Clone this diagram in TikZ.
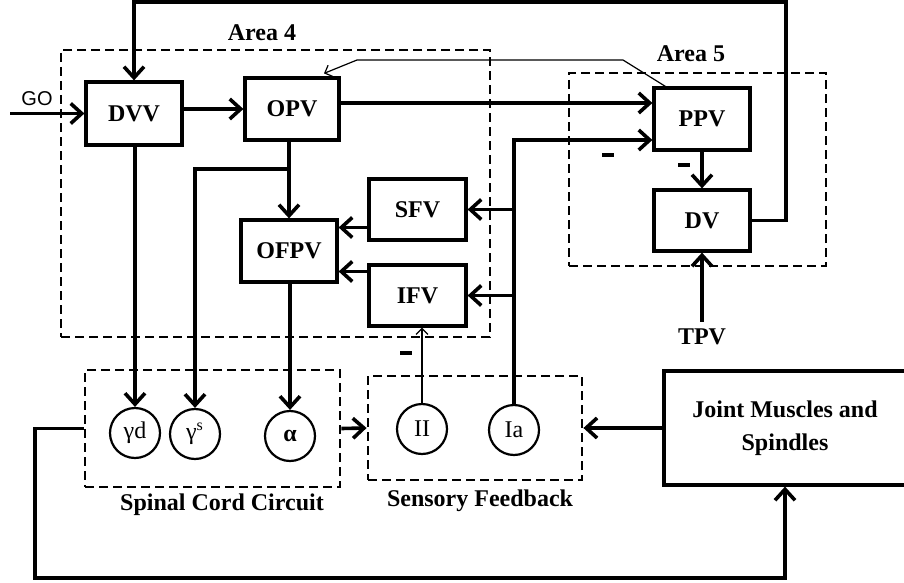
\documentclass[tikz,border=0pt]{standalone}
\usepackage{fontspec}
\setmainfont{Liberation Serif}
\newfontfamily\gofont{Liberation Sans}
\usetikzlibrary{arrows.meta}

\tikzset{
  blk/.style={draw, line width=1.6pt, inner sep=0pt, font=\fontsize{12}{14}\selectfont\bfseries},
  cell/.style={draw, circle, line width=1.1pt, minimum size=25pt, inner sep=0pt, font=\fontsize{12}{14}\selectfont},
  zone/.style={draw, line width=1.4pt, dash pattern=on 4.5pt off 2.5pt, inner sep=0pt},
  arr/.style={line width=1.8pt, -{Straight Barb[length=5.5pt,width=10pt]}},
  thinarr/.style={line width=0.6pt, -{Straight Barb[length=3pt,width=6pt]}},
  lbl/.style={font=\fontsize{12}{14}\selectfont\bfseries},
  minus/.style={inner sep=0pt},
}

\begin{document}
\begin{tikzpicture}[x=0.5pt,y=-0.5pt]
\clip (0,0) rectangle (904,583);
% dashed areas
\node[zone, minimum width=214.5pt, minimum height=143.5pt] (area4) at (275.5,193.5) {};
\node[zone, minimum width=128.5pt, minimum height=96.5pt] (area5) at (697.5,169.5) {};
\node[zone, minimum width=127.5pt, minimum height=58.5pt] (spinal) at (212.5,428.5) {};
\node[zone, minimum width=107pt, minimum height=52pt] (sensory) at (475,428) {};
\node[lbl] (a4lbl) at (262,33) {Area 4};
\node[lbl] (a5lbl) at (691,54) {Area 5};
\node[lbl] (sclbl) at (222,505) {Spinal Cord Circuit};
\node[lbl] (sflbl) at (480,501) {Sensory Feedback};
% boxes
\node[blk, minimum width=48pt, minimum height=31.5pt] (DVV) at (134,113.5) {DVV};
\node[blk, minimum width=47pt, minimum height=31pt] (OPV) at (292,109) {OPV};
\node[blk, minimum width=48pt, minimum height=31pt] (OFPV) at (289,251) {OFPV};
\node[blk, minimum width=48.5pt, minimum height=30.5pt] (SFV) at (417.5,209.5) {SFV};
\node[blk, minimum width=48.5pt, minimum height=30.5pt] (IFV) at (417.5,295.5) {IFV};
\node[blk, minimum width=48pt, minimum height=31pt] (PPV) at (702,119) {PPV};
\node[blk, minimum width=48pt, minimum height=30.5pt] (DV) at (702,220.5) {DV};
\node[blk, minimum width=121pt, minimum height=57pt, align=center, font=\fontsize{12}{16.5}\selectfont\bfseries] (joint) at (785,428) {Joint Muscles and\\Spindles};
\node[lbl] (TPV) at (702,337) {TPV};
\node[font=\gofont\fontsize{10}{12}\selectfont] (GO) at (37,99) {GO};
\coordinate (goin) at (10,113.5);
% circles
\node[cell] (gd) at (135,433) {γd};
\node[cell] (gs) at (195,434) {γ\textsuperscript{s}};
\node[cell] (al) at (290,436) {\textbf{α}};
\node[cell] (II) at (422,429) {II};
\node[cell] (Ia) at (514,430) {Ia};
% minus signs
\node[minus] (m1) at (608,155) {\rule{6pt}{1.7pt}};
\node[minus] (m2) at (684,165) {\rule{6pt}{1.7pt}};
\node[minus] (m3) at (406,353) {\rule{6pt}{1.7pt}};
% connectors
\draw[arr] (goin) -- (DVV.west);
\draw[arr] (DVV.east |- OPV.west) -- (OPV.west);
\draw[arr] ([yshift=3pt]OPV.east) -- ([yshift=3pt]OPV.east -| PPV.west);
\draw[thinarr] ([xshift=6.5pt]PPV.north west) -- (623,60) -- (357,60) -- ([xshift=16pt,yshift=1.5pt]OPV.north);
\draw[arr] (OFPV.north |- OPV.south) -- (OFPV.north);
\coordinate (br) at (289,169);
\draw[arr] (br) -| (gs.north);
\draw[arr] (gd.north |- DVV.south) -- (gd.north);
\draw[arr] (al.north |- OFPV.south) -- (al.north);
\draw[arr] ([yshift=-9pt]SFV.west) -- ([yshift=-9pt]SFV.west -| OFPV.east);
\draw[arr] ([yshift=12pt]IFV.west) -- ([yshift=12pt]IFV.west -| OFPV.east);
\draw[arr] (Ia.north) |- ([yshift=-10.5pt]PPV.west);
\draw[arr] (Ia.north |- SFV.east) -- (SFV.east);
\draw[arr] (Ia.north |- IFV.east) -- (IFV.east);
\draw[thinarr] (II.north) -- (II.north |- IFV.south);
\draw[arr] (PPV.south) -- (DV.north);
\draw[arr] (TPV.north) -- (DV.south);
\draw[arr] (DV.east) -| (786,2) -| (DVV.north);
\draw[arr] (spinal.east) -- (sensory.west);
\draw[arr] (joint.west) -- (sensory.east);
\draw[arr] (spinal.west) -| (35,578) -| (joint.south);
\end{tikzpicture}
\end{document}
